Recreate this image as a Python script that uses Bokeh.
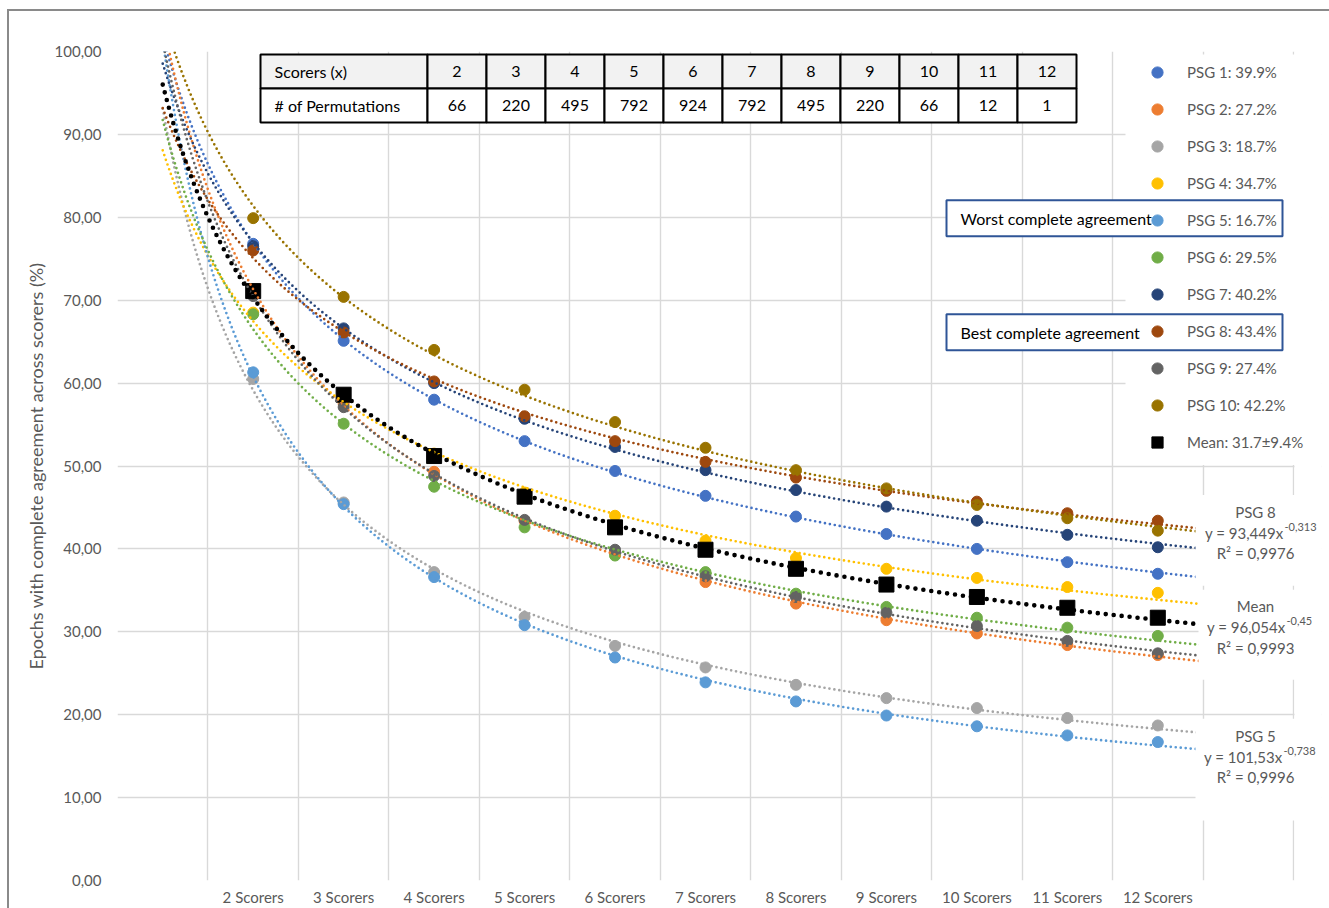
import numpy as np
from bokeh.plotting import figure
from bokeh.models import Range1d, FixedTicker, Legend, LegendItem, Label, ColumnDataSource
from bokeh.core.properties import value
from bokeh.embed import file_html
from bokeh.resources import INLINE

FONT = "Lato"
GRAY_TXT = "#595959"

# ---------------- data ----------------
scorers = [2, 3, 4, 5, 6, 7, 8, 9, 10, 11, 12]
x_tick_labels = ["2 Scorers", "3 Scorers", "4 Scorers", "5 Scorers", "6 Scorers", "7 Scorers",
                 "8 Scorers", "9 Scorers", "10 Scorers", "11 Scorers", "12 Scorers"]
y_ticks = [0, 10, 20, 30, 40, 50, 60, 70, 80, 90, 100]
y_tick_labels = ["0,00", "10,00", "20,00", "30,00", "40,00", "50,00", "60,00", "70,00",
                 "80,00", "90,00", "100,00"]

psg1 = [76.8, 65.1, 58.0, 53.0, 49.4, 46.4, 43.9, 41.8, 40.0, 38.4, 37.0]
psg2 = [71.0, 57.5, 49.3, 43.4, 39.5, 36.0, 33.4, 31.4, 29.8, 28.4, 27.2]
psg3 = [60.5, 45.6, 37.2, 31.8, 28.3, 25.7, 23.6, 22.0, 20.8, 19.6, 18.7]
psg4 = [68.5, 58.0, 51.5, 46.8, 44.0, 41.0, 38.9, 37.6, 36.5, 35.4, 34.7]
psg5 = [61.3, 45.4, 36.6, 30.8, 26.9, 23.9, 21.6, 19.9, 18.6, 17.5, 16.7]
psg6 = [68.3, 55.1, 47.5, 42.6, 39.2, 37.2, 34.6, 33.0, 31.7, 30.5, 29.5]
psg7 = [76.5, 66.6, 60.0, 55.7, 52.3, 49.5, 47.1, 45.1, 43.4, 41.7, 40.2]
psg8 = [76.0, 66.1, 60.2, 56.0, 53.0, 50.5, 48.6, 47.0, 45.7, 44.3, 43.4]
psg9 = [70.5, 57.1, 48.8, 43.5, 39.9, 36.7, 34.2, 32.3, 30.7, 28.9, 27.4]
psg10 = [79.9, 70.4, 64.0, 59.2, 55.3, 52.2, 49.5, 47.3, 45.3, 43.7, 42.2]
mean_vals = [71.1, 58.6, 51.2, 46.3, 42.6, 39.9, 37.6, 35.7, 34.2, 32.9, 31.7]

series = [psg1, psg2, psg3, psg4, psg5, psg6, psg7, psg8, psg9, psg10]
colors = ["#4472C4", "#ED7D31", "#A5A5A5", "#FFC000", "#5B9BD5",
          "#70AD47", "#264478", "#9E480E", "#636363", "#997300"]
legend_labels = ["PSG 1: 39.9%", "PSG 2: 27.2%", "PSG 3: 18.7%", "PSG 4: 34.7%", "PSG 5: 16.7%",
                 "PSG 6: 29.5%", "PSG 7: 40.2%", "PSG 8: 43.4%", "PSG 9: 27.4%", "PSG 10: 42.2%",
                 "Mean: 31.7±9.4%"]

table_head = ["Scorers (x)", "# of Permutations"]
permutations = [66, 220, 495, 792, 924, 792, 495, 220, 66, 12, 1]

fit_names = ["PSG 8", "Mean", "PSG 5"]
fit_eq = ["y = 93,449x", "y = 96,054x", "y = 101,53x"]
fit_exp = ["-0,313", "-0,45", "-0,738"]
fit_r2 = ["R² = 0,9976", "R² = 0,9993", "R² = 0,9996"]

box_texts = ["Worst complete agreement", "Best complete agreement"]

# ---------------- layout constants (page pixels) ----------------
X0, Y0 = 117, 51          # frame top-left
GRID_RIGHT = 1293         # right edge of category area (x = 13.5)
FRAME_RIGHT = 1321        # frame extended so right-hand labels are not clipped
FH = 830
FW = FRAME_RIGHT - X0
W, H = 1329, 908
x_lo, x_hi_grid = 0.5, 13.5
x_hi = x_lo + (x_hi_grid - x_lo) * FW / (GRID_RIGHT - X0)

p = figure(width=W, height=H, x_range=Range1d(x_lo, x_hi), y_range=Range1d(0, 100),
           output_backend="svg", toolbar_location=None,
           min_border_left=X0, min_border_right=W - FRAME_RIGHT, min_border_top=Y0,
           min_border_bottom=H - Y0 - FH)
p.styles = {"box-shadow": "inset 7px 0 0 0 white, inset 0 9px 0 0 white, "
                          "inset 9px 0 0 0 #8a8a8a, inset 0 11px 0 0 #8a8a8a"}
p.outline_line_color = None
p.background_fill_color = "white"
p.border_fill_color = "white"
p.border_fill_alpha = 0.0

p.extra_x_ranges = {"px": Range1d(0, FW)}
p.extra_y_ranges = {"py": Range1d(FH, 0)}


def fx(v):
    return v - X0


def fy(v):
    return v - Y0


# grid
p.xgrid.ticker = FixedTicker(ticks=[0.5 + k for k in range(14)])
p.ygrid.ticker = FixedTicker(ticks=y_ticks)
for g in (p.xgrid, p.ygrid):
    g.grid_line_color = "#d9d9d9"
    g.grid_line_width = 1.4

# white strip right of the category area (frame extension)
p.quad(left=[fx(GRID_RIGHT) + 1], right=[FW + 2], top=[-2], bottom=[FH + 2],
       fill_color="white", line_color=None, x_range_name="px", y_range_name="py")

# axes
p.xaxis.ticker = FixedTicker(ticks=scorers)
p.xaxis.major_label_overrides = {s: lab for s, lab in zip(scorers, x_tick_labels)}
p.yaxis.ticker = FixedTicker(ticks=y_ticks)
p.yaxis.major_label_overrides = {t: lab for t, lab in zip(y_ticks, y_tick_labels)}
p.yaxis.axis_label = "Epochs with complete agreement across scorers (%)"
for ax in (p.xaxis, p.yaxis):
    ax.axis_line_color = None
    ax.major_tick_line_color = None
    ax.minor_tick_line_color = None
    ax.major_tick_out = 0
    ax.major_tick_in = 0
    ax.major_label_text_font = FONT
    ax.major_label_text_font_size = "15px"
    ax.major_label_text_color = GRAY_TXT
p.xaxis.major_label_standoff = 7
p.yaxis.major_label_standoff = 16
p.yaxis.axis_label_text_font = FONT
p.yaxis.axis_label_text_font_size = "18px"
p.yaxis.axis_label_text_font_style = "normal"
p.yaxis.axis_label_text_color = GRAY_TXT
p.yaxis.axis_label_standoff = 5

# markers
marker_renderers = []
for vals, c in zip(series, colors):
    r = p.scatter(scorers, vals, size=11, marker="circle", fill_color=c, line_color=c)
    marker_renderers.append(r)
rm = p.scatter(scorers, mean_vals, size=15, marker="square", fill_color="black", line_color="black")
marker_renderers.append(rm)

# power trend lines (least squares in log-log space)
xs_fit = np.linspace(1.0, 12.5, 300)
lx = np.log(np.array(scorers, dtype=float))
for vals, c in zip(series, colors):
    b, ln_a = np.polyfit(lx, np.log(np.array(vals)), 1)
    p.line(xs_fit, np.exp(ln_a) * xs_fit ** b, line_color=c, line_width=2.7,
           line_dash="0 5", line_cap="round")
b, ln_a = np.polyfit(lx, np.log(np.array(mean_vals)), 1)
p.line(xs_fit, np.exp(ln_a) * xs_fit ** b, line_color="black", line_width=4.6,
       line_dash="0 8", line_cap="round")

# ---------------- permutations table ----------------
col_edges = [260, 427] + [427 + 59 * (k + 1) for k in range(len(scorers))]
row_edges = [54, 88, 122]
row_fill = ["#f2f2f2", "white"]
for ri in range(2):
    src = ColumnDataSource(dict(
        left=[fx(v) for v in col_edges[:-1]], right=[fx(v) for v in col_edges[1:]],
        top=[fy(row_edges[ri])] * (len(col_edges) - 1),
        bottom=[fy(row_edges[ri + 1])] * (len(col_edges) - 1)))
    p.quad(left="left", right="right", top="top", bottom="bottom", source=src,
           fill_color=row_fill[ri], line_color="black", line_width=2,
           x_range_name="px", y_range_name="py")
row_mid = [fy((row_edges[0] + row_edges[1]) / 2), fy((row_edges[1] + row_edges[2]) / 2)]
p.text(x=[fx(274), fx(274)], y=row_mid, text=table_head, text_font=value(FONT),
       text_font_size="16px", text_color="black", text_align="left", text_baseline="middle",
       x_range_name="px", y_range_name="py")
col_mid = [fx((col_edges[i + 1] + col_edges[i + 2]) / 2) for i in range(len(scorers))]
p.text(x=col_mid, y=[row_mid[0]] * len(scorers), text=[str(s) for s in scorers],
       text_font=value(FONT), text_font_size="16px", text_color="black", text_align="center",
       text_baseline="middle", x_range_name="px", y_range_name="py")
p.text(x=col_mid, y=[row_mid[1]] * len(scorers), text=[str(v) for v in permutations],
       text_font=value(FONT), text_font_size="16px", text_color="black", text_align="center",
       text_baseline="middle", x_range_name="px", y_range_name="py")

# ---------------- fit label boxes (white) ----------------
fit_boxes = [(1195, 495, 586), (1198, 590, 680), (1195, 719, 821)]
p.quad(left=[fx(b[0]) for b in fit_boxes], right=[FW + 2] * 3,
       top=[fy(b[1]) for b in fit_boxes], bottom=[fy(b[2]) for b in fit_boxes],
       fill_color="white", line_color=None, x_range_name="px", y_range_name="py")

fit_name_y = [512, 606, 736]
fit_eq_y = [533, 627, 757]
fit_eq_right = [1283, 1285, 1282]
fit_r2_y = [553, 648, 777]
for i in range(3):
    common = dict(x_range_name="px", y_range_name="py", text_font=FONT,
                  text_color=GRAY_TXT, text_baseline="middle")
    p.add_layout(Label(x=fx(1255), y=fy(fit_name_y[i]), text=fit_names[i], text_align="center",
                       text_font_size="15px", **common))
    p.add_layout(Label(x=fx(fit_eq_right[i]), y=fy(fit_eq_y[i]), text=fit_eq[i], text_align="right",
                       text_font_size="15px", **common))
    p.add_layout(Label(x=fx(fit_eq_right[i] + 1), y=fy(fit_eq_y[i] - 6), text=fit_exp[i],
                       text_align="left", text_font_size="11px", **common))
    p.add_layout(Label(x=fx(1255), y=fy(fit_r2_y[i]), text=fit_r2[i], text_align="center",
                       text_font_size="15px", **common))

# ---------------- legend background (white panel) ----------------
LEG_BG = (1125, 54, 465)   # left, top, bottom (page px)
p.quad(left=[fx(LEG_BG[0])], right=[FW + 2], top=[fy(LEG_BG[1])], bottom=[fy(LEG_BG[2])],
       fill_color="white", line_color=None, x_range_name="px", y_range_name="py")

# ---------------- highlight boxes ----------------
hb_top = [200, 314]
hb_bot = [236, 350]
p.quad(left=[fx(946)] * 2, right=[fx(1282)] * 2, top=[fy(v) for v in hb_top],
       bottom=[fy(v) for v in hb_bot], fill_color="white", line_color="#2F5597", line_width=2,
       x_range_name="px", y_range_name="py")
p.text(x=[fx(960)] * 2, y=[fy((hb_top[i] + hb_bot[i]) / 2) for i in range(2)], text=box_texts,
       text_font=value(FONT), text_font_size="16px", text_color="black", text_align="left",
       text_baseline="middle", x_range_name="px", y_range_name="py")

# ---------------- legend (transparent, drawn over the panel) ----------------
LEG_LEFT, LEG_BOTTOM = 1127, 457
legend = Legend(items=[LegendItem(label=lab, renderers=[r])
                       for lab, r in zip(legend_labels, marker_renderers)],
                location=(LEG_LEFT - X0, Y0 + FH - LEG_BOTTOM))
legend.background_fill_alpha = 0.0
legend.border_line_color = None
legend.padding = 6
legend.margin = 0
legend.spacing = 9
legend.glyph_width = 60
legend.glyph_height = 28
legend.label_height = 20
legend.label_standoff = 0
legend.label_text_font = FONT
legend.label_text_font_size = "15px"
legend.label_text_color = GRAY_TXT
p.add_layout(legend, "center")

open("out.html", "w").write(file_html(p, INLINE))
